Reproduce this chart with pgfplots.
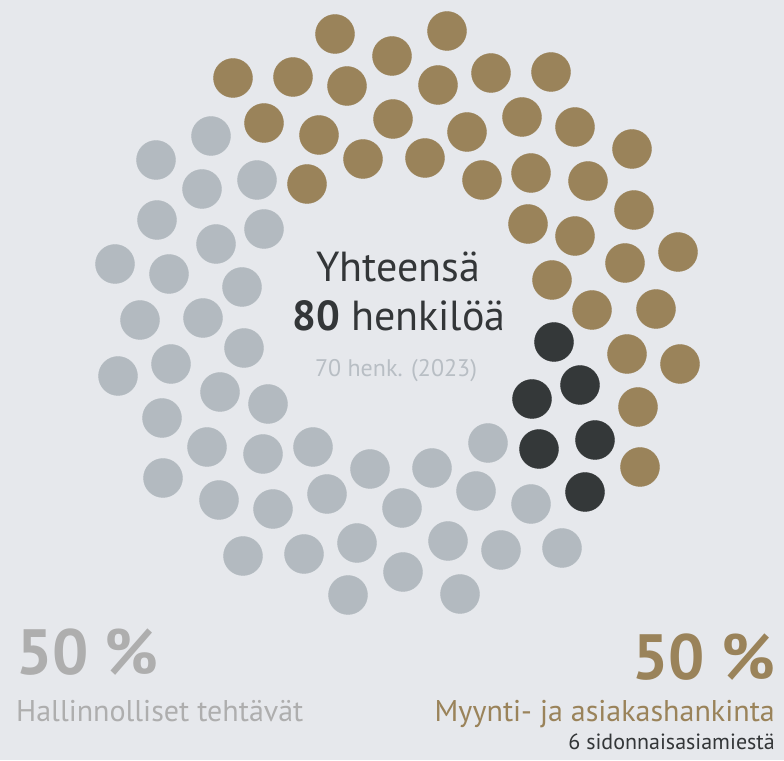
\documentclass[border=0pt]{standalone}
\usepackage{pgfplots}
\pgfplotsset{compat=1.18}
\usepackage{fontspec}
\setmainfont{PT Sans}
\definecolor{bg}{HTML}{E6E8EC}
\definecolor{gold}{HTML}{9A835A}
\definecolor{darkdot}{HTML}{343839}
\definecolor{greydot}{HTML}{B3BAC0}
\definecolor{txtdark}{HTML}{333638}
\definecolor{txtgrey}{HTML}{AEAEAE}
\definecolor{txtlight}{HTML}{B8BEC4}
\begin{document}
\begin{tikzpicture}
\begin{axis}[
  x=1pt, y=1pt,
  xmin=0, xmax=784, ymin=0, ymax=760,
  hide axis, clip=false,
]
\fill[bg] (axis cs:0,0) rectangle (axis cs:784,760);
% gold: Myynti- ja asiakashankinta
\addplot[only marks, mark=*, mark size=19.5pt, color=gold, fill=gold] coordinates {
(335,726) (447,729) (233,682) (293,683) (392,704) (347,674) (438,675) (491,687) (551,688)
(264,637) (319,625) (393,641) (467,628) (522,643) (575,633) (307,576) (363,601) (425,602)
(482,580) (531,587) (632,611) (588,579) (528,536) (634,550) (575,524) (625,497) (678,508)
(552,480) (592,450) (656,451) (627,406) (680,396) (638,353) (640,293)
};
% dark: sidonnaisasiamiehet
\addplot[only marks, mark=*, mark size=19.5pt, color=darkdot, fill=darkdot] coordinates {
(554,418) (580,375) (532,361) (595,320) (539,311) (585,268)
};
% grey: Hallinnolliset tehtavat
\addplot[only marks, mark=*, mark size=19.5pt, color=greydot, fill=greydot] coordinates {
(211,624) (156,600) (202,571) (257,580) (157,540) (216,516) (264,531) (115,496) (169,486)
(242,473) (140,440) (203,442) (244,412) (118,384) (171,396) (220,368) (268,356) (162,342)
(207,313) (263,306) (313,313) (163,282) (219,260) (273,251) (327,266) (370,291) (432,292)
(488,317) (402,252) (476,269) (531,256) (243,204) (304,206) (357,217) (448,219) (501,210)
(562,212) (403,188) (348,165) (460,166)
};
\node[anchor=base, text=txtdark, font=\fontsize{42}{46}\selectfont, inner sep=0pt] at (axis cs:398,478) {Yhteensä};
\node[anchor=base, text=txtdark, font=\fontsize{42}{46}\selectfont, inner sep=0pt] at (axis cs:399,429) {\textbf{80} henkilöä};
\node[anchor=base, text=txtlight, font=\fontsize{24}{28}\selectfont, inner sep=0pt] at (axis cs:396,383) {70 henk. (2023)};
\node[anchor=base west, text=txtgrey, font=\fontsize{64}{70}\selectfont\bfseries, inner sep=0pt] at (axis cs:16,85) {50~\%};
\node[anchor=base west, text=txtgrey, font=\fontsize{30}{34}\selectfont, inner sep=0pt] at (axis cs:16,38) {Hallinnolliset tehtävät};
\node[anchor=base east, text=gold, font=\fontsize{64}{70}\selectfont\bfseries, inner sep=0pt] at (axis cs:775,80) {50~\%};
\node[anchor=base east, text=gold, font=\fontsize{30}{34}\selectfont, inner sep=0pt] at (axis cs:775,38) {Myynti- ja asiakashankinta};
\node[anchor=base east, text=txtdark, font=\fontsize{22}{26}\selectfont, inner sep=0pt] at (axis cs:775,10) {6 sidonnaisasiamiestä};
\end{axis}
\end{tikzpicture}
\end{document}
